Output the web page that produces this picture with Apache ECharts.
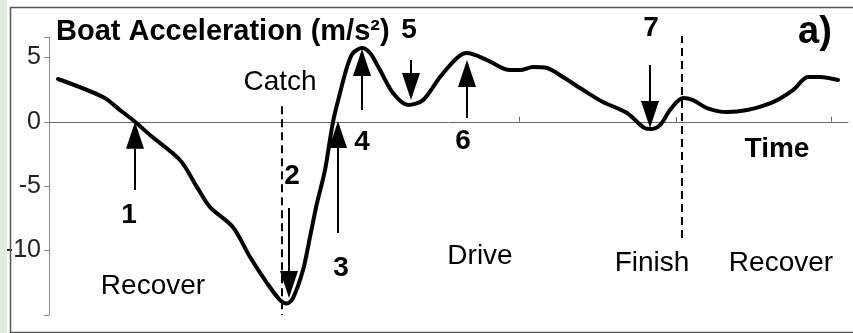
<!DOCTYPE html>
<html>
<head>
<meta charset="utf-8">
<script src="https://cdn.jsdelivr.net/npm/echarts@6/dist/echarts.min.js"></script>
<style>
html,body{margin:0;padding:0;background:#fff;}
#chart{width:853px;height:333px;}
</style>
</head>
<body>
<div id="chart"></div>
<script>
// Time (arbitrary units read along the stroke) and boat acceleration (m/s^2)
const times = [9, 54, 71, 86, 101, 131, 148, 161, 184, 201, 218, 231, 238, 244, 254, 261, 268, 276, 284, 291, 298, 304, 313, 321, 331, 344, 359, 374, 391, 408, 418, 438, 461, 471, 484, 498, 514, 531, 554, 578, 594, 601, 611, 621, 634, 644, 658, 678, 698, 724, 744, 759, 771, 789];
const accel = [3.32, 1.92, 0.91, 0, -1.03, -2.97, -5.07, -6.62, -8.18, -10.50, -12.52, -13.84, -14.11, -13.69, -11.51, -8.95, -6.31, -3.75, 0, 2.23, 4.25, 5.33, 5.72, 5.33, 4.01, 2.23, 1.30, 1.68, 3.47, 4.95, 5.33, 4.79, 4.01, 4.01, 4.25, 4.17, 3.47, 2.62, 1.53, 0.68, -0.41, -0.57, -0.26, 0.91, 1.84, 1.68, 1.06, 0.75, 0.91, 1.53, 2.46, 3.47, 3.47, 3.24];

// y-axis ticks and x-axis tick positions
const yTicks = [5, 0, -5, -10];
const xTickValues = [470, 627, 782];

// Phase markers (dashed vertical lines)
const catchLine = [[233, 1.21], [233, -15]];
const finishLine = [[633, 6.73], [633, -9.42]];

// Numbered arrows: x, tail value, tip value
const arrowX    = [86, 240, 289, 313, 362, 418, 601];
const arrowTail = [-5.30, -6.70, -8.64, 0.91, 4.79, 0.29, 4.40];
const arrowTip  = [0, -13.69, 0.05, 5.64, 1.68, 4.79, -0.49];

// Annotation texts
const noteText = ['1', '2', '3', '4', '5', '6', '7', 'Catch', 'Recover', 'Drive', 'Finish', 'Recover', 'Time', 'a)'];
const noteX    = [80, 243, 292, 313, 360, 414, 602, 231, 104, 431, 603, 732, 728, 766];
const noteY    = [-7.24, -4.22, -11.36, -1.58, 7.12, -1.50, 7.27, 3.08, -12.76, -10.43, -10.97, -10.97, -2.12, 6.89];
const noteKind = ['num', 'num', 'num', 'num', 'num', 'num', 'num', 'reg', 'reg', 'reg', 'reg', 'reg', 'bold', 'big'];

const FONT = 'Liberation Sans, Arial, Helvetica, sans-serif';

const chart = echarts.init(document.getElementById('chart'), null, {renderer: 'canvas'});

const curveData = times.map((t, i) => [t, accel[i]]);
const arrowData = arrowX.map((x, i) => [x, arrowTail[i], arrowTip[i]]);
const noteData = noteX.map((x, i) => [x, noteY[i]]);

const kindStyle = {
  num:  {fontSize: 28, fontWeight: 'bold'},
  reg:  {fontSize: 28, fontWeight: 'normal'},
  bold: {fontSize: 28, fontWeight: 'bold'},
  big:  {fontSize: 38, fontWeight: 'bold'}
};

const option = {
  animation: false,
  backgroundColor: '#ffffff',
  title: {
    text: 'Boat Acceleration (m/s²)',
    left: 56,
    top: 17,
    padding: 0,
    textStyle: {fontSize: 29, fontWeight: 'bold', fontFamily: FONT, color: '#000', lineHeight: 30}
  },
  graphic: [
    {type: 'rect', shape: {x: 0, y: 0, width: 7, height: 333}, style: {fill: '#e3eed9'}, z: 100},
    {type: 'polyline', shape: {points: [[853, 7.5], [10.5, 7.5], [10.5, 332.5], [853, 332.5]]}, style: {stroke: '#555', lineWidth: 1.5, fill: null}, z: 100}
  ],
  grid: {left: 49, right: 5, top: 37, bottom: 18, containLabel: false},
  xAxis: {
    type: 'value',
    min: 0,
    max: 799,
    axisLine: {onZero: true, lineStyle: {color: '#666', width: 1}},
    axisTick: {show: true, inside: true, length: 5, lineStyle: {color: '#666'}, customValues: xTickValues},
    axisLabel: {show: false},
    splitLine: {show: false}
  },
  yAxis: {
    type: 'value',
    min: -15,
    max: 6.58,
    interval: 5,
    axisLine: {show: true, onZero: false, lineStyle: {color: '#888', width: 1}},
    axisTick: {show: true, length: 5, lineStyle: {color: '#888'}},
    axisLabel: {
      margin: 8,
      fontSize: 25,
      fontFamily: FONT,
      color: '#222',
      formatter: v => (yTicks.indexOf(v) >= 0 ? String(v) : '')
    },
    splitLine: {show: false}
  },
  series: [
    {
      type: 'line',
      data: catchLine,
      showSymbol: false,
      lineStyle: {color: '#000', width: 2, type: [8, 5]},
      z: 2
    },
    {
      type: 'line',
      data: finishLine,
      showSymbol: false,
      lineStyle: {color: '#000', width: 2, type: [8, 5]},
      z: 2
    },
    {
      type: 'custom',
      data: arrowData,
      encode: {x: 0, y: [1, 2]},
      z: 3,
      renderItem: function (params, api) {
        const x = api.value(0), from = api.value(1), to = api.value(2);
        const p0 = api.coord([x, from]);
        const p1 = api.coord([x, to]);
        const dir = p1[1] > p0[1] ? 1 : -1;
        const headLen = 27, halfW = 9;
        const base = p1[1] - dir * headLen;
        return {
          type: 'group',
          children: [
            {type: 'line', shape: {x1: p0[0], y1: p0[1], x2: p0[0], y2: base}, style: {stroke: '#000', lineWidth: 2}},
            {type: 'polygon', shape: {points: [[p1[0], p1[1]], [p1[0] - halfW, base], [p1[0] + halfW, base]]}, style: {fill: '#000'}}
          ]
        };
      }
    },
    {
      type: 'line',
      data: curveData,
      smooth: 0.3,
      showSymbol: false,
      lineStyle: {color: '#000', width: 4, cap: 'round', join: 'round'},
      z: 4
    },
    {
      type: 'custom',
      data: noteData,
      encode: {x: 0, y: 1},
      clip: false,
      z: 5,
      renderItem: function (params, api) {
        const i = params.dataIndex;
        const p = api.coord([api.value(0), api.value(1)]);
        const k = kindStyle[noteKind[i]];
        return {
          type: 'text',
          x: p[0],
          y: p[1],
          style: {
            text: noteText[i],
            fontSize: k.fontSize,
            fontWeight: k.fontWeight,
            fontFamily: FONT,
            fill: '#000',
            align: 'center',
            verticalAlign: 'middle'
          }
        };
      }
    }
  ]
};

chart.setOption(option);
</script>
</body>
</html>
